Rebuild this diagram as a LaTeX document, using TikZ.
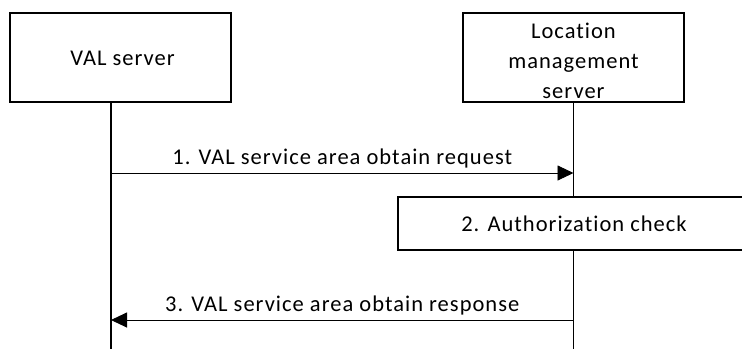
\documentclass[tikz,border=0pt]{standalone}
\usepackage{fontspec}
\setmainfont{Carlito}[Ligatures=NoCommon,LetterSpace=4.5]
\usetikzlibrary{arrows.meta}
\begin{document}
\begin{tikzpicture}[x=1pt,y=-1pt,
  box/.style={draw,line width=1.6pt,fill=white,inner sep=0pt,align=center,font=\fontsize{22.5}{30}\selectfont},
  lbl/.style={font=\fontsize{22.5}{30}\selectfont,inner sep=0pt,align=center},
  life/.style={line width=1.5pt},
  msg/.style={line width=0.9pt,-{Triangle[length=16pt,width=15pt]}}]
\useasboundingbox (0,0) rectangle (742,349);
\clip (0,0) rectangle (742,349);
\node[box,minimum width=221pt,minimum height=89pt] (val) at (120.5,57.5) {};
\node[lbl] (valtxt) at ([xshift=2pt,yshift=-1pt]val.center) {VAL server};
\node[box,minimum width=221pt,minimum height=89pt] (loc) at (573.5,57.5) {};
\node[lbl] (loctxt) at ([yshift=-3pt]loc.center) {Location\\management\\server};
\coordinate (vbot) at (111,349);
\coordinate (lbot) at (573.5,349);
\draw[life] (val.south -| vbot) -- (vbot);
\draw[life] (loc.south) -- (lbot);
\node[box,minimum width=352pt,minimum height=53pt] (auth) at (574,223.5) {2. Authorization check};
\coordinate (m1a) at (111,173);
\coordinate (m1b) at (573.5,173);
\coordinate (m3a) at (111,320);
\coordinate (m3b) at (573.5,320);
\draw[msg] (m1a) -- node[lbl,above=4pt] (t1) {1. VAL service area obtain request} (m1b);
\draw[msg] (m3b) -- node[lbl,above=4pt] (t3) {3. VAL service area obtain response} (m3a);
\end{tikzpicture}
\end{document}
